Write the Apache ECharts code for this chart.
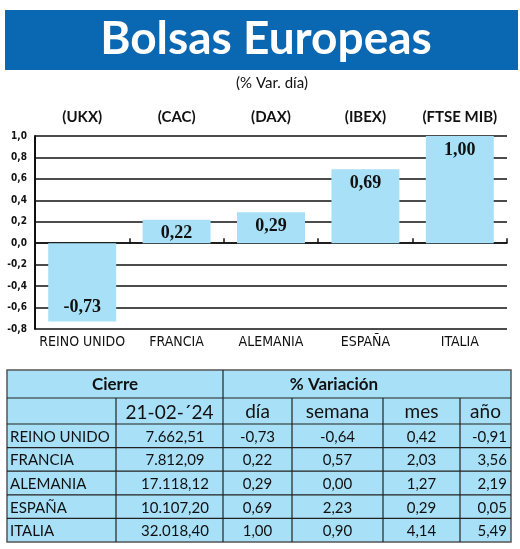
<!DOCTYPE html>
<html>
<head>
<meta charset="utf-8">
<script src="https://cdn.jsdelivr.net/npm/echarts@6/dist/echarts.min.js"></script>
<style>
  html, body { margin: 0; padding: 0; background: #fff; }
  #chart { width: 520px; height: 549px; }
</style>
</head>
<body>
<div id="chart"></div>
<script>
// datos
const paises = ['REINO UNIDO', 'FRANCIA', 'ALEMANIA', 'ESPAÑA', 'ITALIA'];
const indices = ['(UKX)', '(CAC)', '(DAX)', '(IBEX)', '(FTSE MIB)'];
const fechaCierre = '21-02-´24';
const cierre = [7662.51, 7812.09, 17118.12, 10107.20, 32018.40];
const varDia = [-0.73, 0.22, 0.29, 0.69, 1.00];
const varSemana = [-0.64, 0.57, 0.00, 2.23, 0.90];
const varMes = [0.42, 2.03, 1.27, 0.29, 4.14];
const varAnio = [-0.91, 3.56, 2.19, 0.05, 5.49];
const columnas = ['día', 'semana', 'mes', 'año'];

const AZUL = '#0a67b1';
const CELESTE = '#a8e0f7';
const SANS = 'Lato, "Open Sans", sans-serif';
const NARROW = '"Liberation Sans Narrow", "DejaVu Sans Condensed", sans-serif';

// 7662.51 -> "7.662,51"
function fmt(n) {
  const s = Math.abs(n).toFixed(2).split('.');
  const ent = s[0].replace(/\B(?=(\d{3})+(?!\d))/g, '.');
  return (n < 0 ? '-' : '') + ent + ',' + s[1];
}

const chart = echarts.init(document.getElementById('chart'));

// tabla inferior
const colX = [7, 116, 223, 292, 383, 460, 511];
const filaY = [370, 398, 424];
for (let i = 1; i <= paises.length; i++) filaY.push(424 + i * 23.6);
const tabla = [];
tabla.push({ type: 'rect', shape: { x: colX[0], y: filaY[0], width: colX[6] - colX[0], height: filaY[7] - filaY[0] },
  style: { fill: CELESTE, stroke: '#555', lineWidth: 1.5 } });
for (let r = 1; r < filaY.length - 1; r++) {
  tabla.push({ type: 'line', shape: { x1: colX[0], y1: filaY[r], x2: colX[6], y2: filaY[r] }, style: { stroke: '#222', lineWidth: 1.2 } });
}
tabla.push({ type: 'line', shape: { x1: colX[2], y1: filaY[0], x2: colX[2], y2: filaY[7] }, style: { stroke: '#222', lineWidth: 1.2 } });
[1, 3, 4, 5].forEach(c => {
  tabla.push({ type: 'line', shape: { x1: colX[c], y1: filaY[1], x2: colX[c], y2: filaY[7] }, style: { stroke: '#222', lineWidth: 1.2 } });
});
function texto(t, x, y, opts) {
  tabla.push({ type: 'text', x: x, y: y, z: 10, style: Object.assign({
    text: t, fill: '#111', fontFamily: SANS, fontSize: 15, align: 'center', verticalAlign: 'middle'
  }, opts || {}) });
}
texto('Cierre', (colX[0] + colX[2]) / 2, 385, { fontWeight: 'bold', fontSize: 17 });
texto('% Variación', 334, 385, { fontWeight: 'bold', fontSize: 17 });
texto(fechaCierre, (colX[1] + colX[2]) / 2, 413, { fontSize: 19 });
columnas.forEach((c, i) => texto(c, (colX[i + 2] + colX[i + 3]) / 2, 412, { fontSize: 19 }));
paises.forEach((p, i) => {
  const y = filaY[i + 2] + 13;
  texto(p, 10, y, { align: 'left' });
  texto(fmt(cierre[i]), 175, y);
  texto(fmt(varDia[i]), (colX[2] + colX[3]) / 2, y);
  texto(fmt(varSemana[i]), (colX[3] + colX[4]) / 2, y);
  texto(fmt(varMes[i]), (colX[4] + colX[5]) / 2, y);
  texto(fmt(varAnio[i]), 507, y, { align: 'right' });
});

const option = {
  animation: false,
  backgroundColor: '#fff',
  grid: { left: 35, right: 13, top: 136, bottom: 220 },
  graphic: [
    { type: 'rect', shape: { x: 5, y: 10, width: 513, height: 60 }, style: { fill: AZUL } },
    { type: 'text', x: 266, y: 39, style: { text: 'Bolsas Europeas', fill: '#fff', fontFamily: SANS, fontWeight: 'bold', fontSize: 46, align: 'center', verticalAlign: 'middle' } },
    { type: 'text', x: 272, y: 83, style: { text: '(% Var. día)', fill: '#111', fontFamily: SANS, fontSize: 15, align: 'center', verticalAlign: 'middle' } }
  ].concat(tabla),
  xAxis: [
    {
      type: 'category', data: paises, position: 'bottom',
      axisLine: { onZero: false, show: false },
      axisTick: { show: false },
      axisLabel: { interval: 0, color: '#111', fontFamily: NARROW, fontSize: 14, margin: 6 }
    },
    {
      type: 'category', data: paises, position: 'bottom',
      axisLine: { onZero: true, lineStyle: { color: '#111', width: 1.5 } },
      axisTick: { show: true, inside: true, interval: 0, length: 5, lineStyle: { color: '#111', width: 1.5 } },
      axisLabel: { show: false }
    },
    {
      type: 'category', data: indices, position: 'top',
      axisLine: { show: false }, axisTick: { show: false },
      axisLabel: { interval: 0, color: '#111', fontFamily: SANS, fontWeight: 'bold', fontSize: 15, margin: 11 }
    }
  ],
  yAxis: {
    type: 'value', min: -0.8, max: 1.0, interval: 0.2,
    axisLine: { show: true, lineStyle: { color: '#111', width: 2 } },
    axisTick: { show: false },
    splitLine: { lineStyle: { color: '#111', width: 1.6 } },
    axisLabel: {
      color: '#111', fontFamily: NARROW, fontWeight: 'bold', fontSize: 10, margin: 8,
      formatter: v => v.toFixed(1).replace('.', ',')
    }
  },
  series: [{
    type: 'bar',
    data: varDia.map(v => ({
      value: v,
      label: { position: v < 0 ? 'insideBottom' : 'insideTop' }
    })),
    barCategoryGap: '28%',
    itemStyle: { color: CELESTE },
    label: {
      show: true, distance: 5, color: '#111',
      fontFamily: '"Liberation Serif", "DejaVu Serif", serif', fontWeight: 'bold', fontSize: 18,
      formatter: p => fmt(p.value)
    }
  }]
};
chart.setOption(option);
</script>
</body>
</html>
